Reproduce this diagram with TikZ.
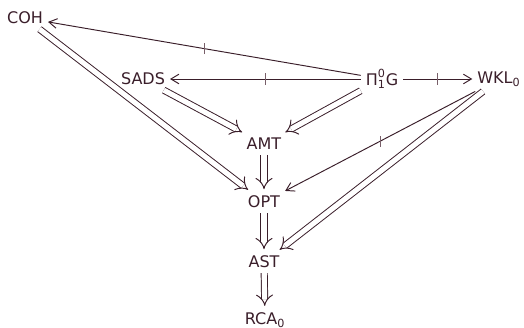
\documentclass[tikz,border=0pt]{standalone}
\usepackage{fontspec}
\setmainfont{DejaVu Sans}
\usepackage{tikz}
\usetikzlibrary{arrows.meta,decorations.markings}
\definecolor{rmink}{RGB}{58,30,42}
\definecolor{rmtick}{RGB}{120,95,105}
\tikzstyle{principle} = [text=rmink, inner sep=3pt]
\tikzstyle{implies} = [draw=rmink, line width=0.6pt, double, double distance=3.2pt, -{Implies}, shorten >=1pt]
\tikzstyle{notimplies} = [draw=rmink, line width=0.6pt, -{Straight Barb[length=5pt,width=6pt]},
  postaction={decorate}, decoration={markings, mark=at position 0.5 with {\pgftransformresetnontranslations
    \draw[rmtick, line width=0.6pt, -] (0,-3.5pt) -- (0,3.5pt);}}]

\begin{document}
\begin{tikzpicture}[x=0.625pt, y=-0.625pt]
\useasboundingbox (0,0) rectangle (524,328);
% Principles
\node (coh) [principle] at (25,18) {COH};
\node (sads) [principle] at (143,79) {SADS};
\node (pig) [principle] at (382,79) {$\mbox{Π}^{\mbox{\scriptsize 0}}_{\mbox{\scriptsize 1}}$G};
\node (wkl) [principle] at (499,79) {WKL\textsubscript{0}};
\node (amt) [principle] at (264,144) {AMT};
\node (opt) [principle] at (264,202) {OPT};
\node (ast) [principle] at (264,262) {AST};
\node (rca) [principle] at (265,320) {RCA\textsubscript{0}};

% Non-implications
\draw[notimplies] (pig) -- (coh);
\draw[notimplies] (pig) -- (sads);
\draw[notimplies] (pig) -- (wkl);
\draw[notimplies] (wkl) -- (opt);

% Implications
\draw[implies] (sads) -- (amt);
\draw[implies] (pig) -- (amt);
\draw[implies] (coh) -- (opt);
\draw[implies] (wkl) -- (ast);
\draw[implies] (amt) -- (opt);
\draw[implies] (opt) -- (ast);
\draw[implies] (ast) -- (rca);
\end{tikzpicture}
\end{document}
